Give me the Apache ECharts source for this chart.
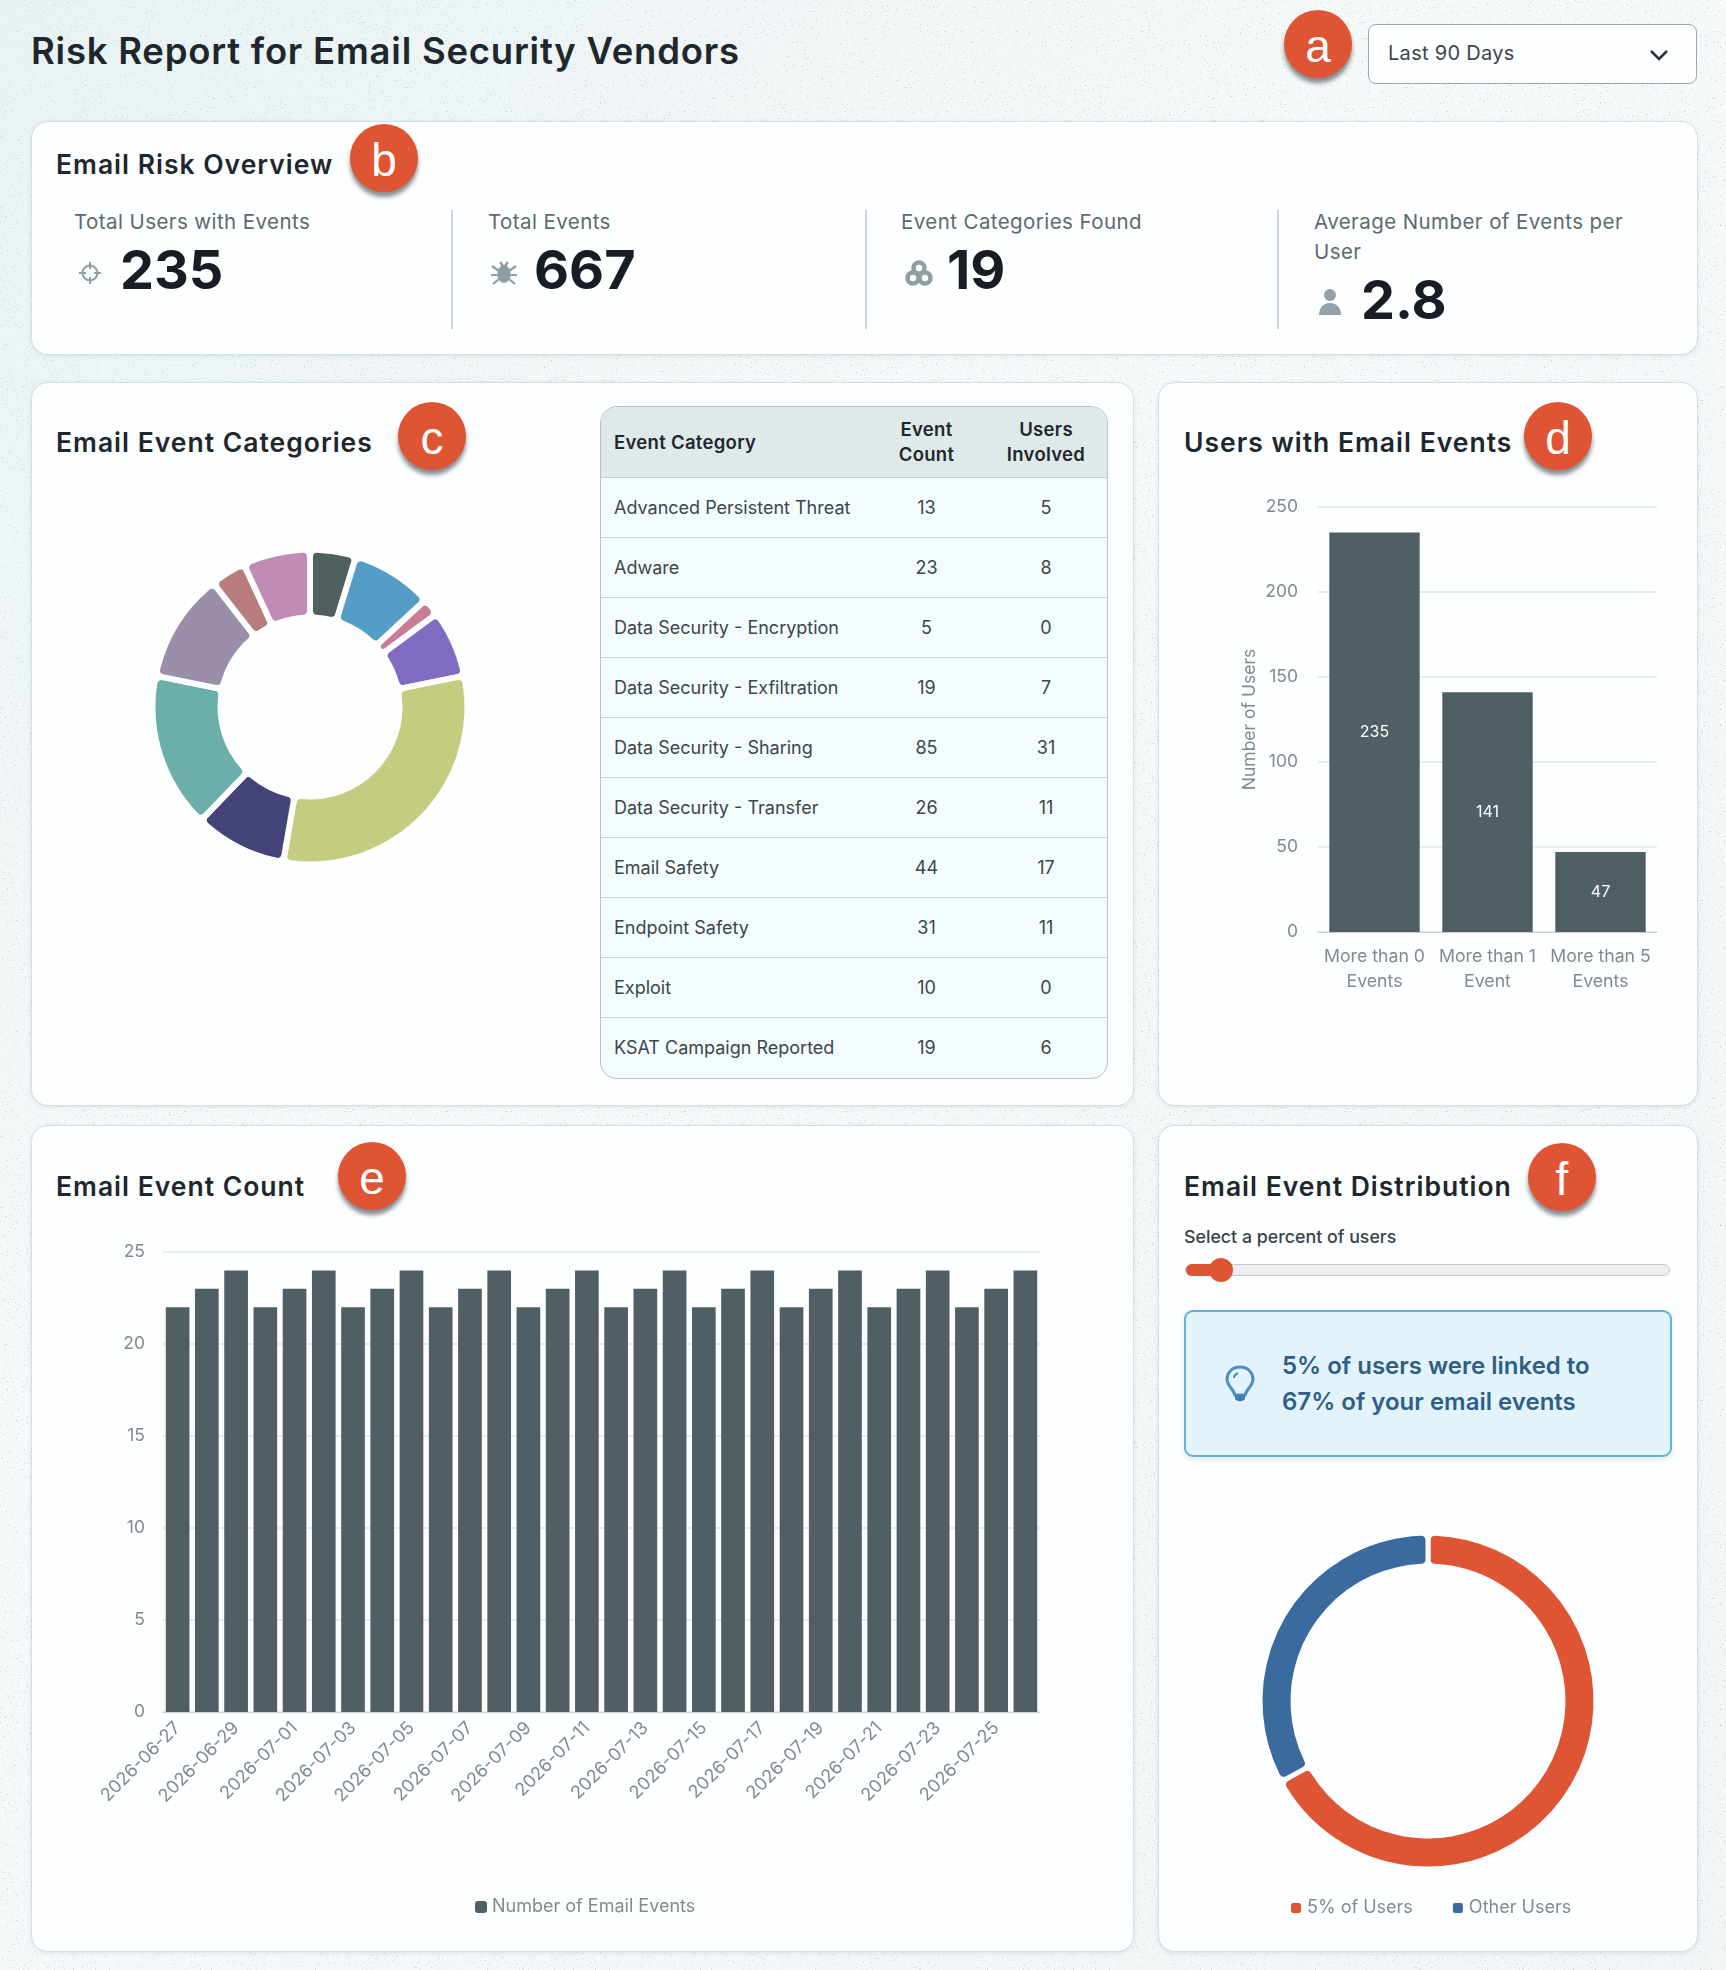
<!DOCTYPE html>
<html><head><meta charset="utf-8">
<script src="https://cdn.jsdelivr.net/npm/echarts@6/dist/echarts.min.js"></script>
<style>
html,body{margin:0;padding:0;width:1726px;height:1970px;overflow:hidden}
body{position:relative;font-family:Inter,"Noto Sans",sans-serif;color:#1c252c;
background-color:#f3f7f8;
background-image:url("data:image/svg+xml,%3Csvg xmlns='http://www.w3.org/2000/svg' width='500' height='500'%3E%3Cfilter id='n'%3E%3CfeTurbulence type='fractalNoise' baseFrequency='.55' numOctaves='2' seed='7'/%3E%3CfeColorMatrix values='0 0 0 0 .62 0 0 0 0 .7 0 0 0 0 .72 0 0 0 14 -9.8'/%3E%3C/filter%3E%3Crect width='100%25' height='100%25' filter='url(%23n)'/%3E%3C/svg%3E"),linear-gradient(135deg,#e9f2f3,#f6f9f9 40%,#f0f5f6);
background-size:500px 500px,100% 100%}
.abs{position:absolute}
.panel{position:absolute;background:#fcfeff;border:1.5px solid #d3dfe2;border-radius:17px;box-sizing:border-box;box-shadow:0 1px 4px rgba(90,120,130,.15)}
.h{position:absolute;font-weight:600;font-size:26.5px;letter-spacing:1px;color:#1f272e;white-space:nowrap;line-height:32px}
.badge{position:absolute;width:68px;height:68px;border-radius:50%;background:#df5433;color:#fff;font:400 46px/72px "Liberation Sans",Arial,sans-serif;text-align:center;box-shadow:0 5px 4px rgba(40,50,55,.55)}
.lab{position:absolute;font-size:20.5px;font-weight:400;letter-spacing:.42px;color:#5d6a6e;line-height:30px;white-space:nowrap}
.num{position:absolute;font-size:54px;font-weight:700;color:#161d24;line-height:60px;letter-spacing:0}
.sep{position:absolute;width:1.5px;top:210px;height:119px;background:#ccd6d9}
table{border-collapse:separate;border-spacing:0;table-layout:fixed;width:100%;font-size:18px;color:#3c464b}
#tw{position:absolute;left:600px;top:406px;width:508px;height:673px;border:1.5px solid #b5c3c7;border-radius:17px;overflow:hidden;box-sizing:border-box;background:#f4fbfd}
th{background:#e0e9e9;font-weight:600;color:#1f272e;height:70px;padding:0;border-bottom:1.5px solid #c2ced2;line-height:25px;font-size:18.5px;letter-spacing:.3px}
td{height:59.05px;padding:0;border-bottom:1.5px solid #c8d4d8;text-align:center}
tr:last-child td{border-bottom:none}
th:first-child,td:first-child{text-align:left;padding-left:13px}
svg{position:absolute}
#chart{position:absolute;left:0;top:0;width:1726px;height:1970px}
</style></head><body>
<div class="abs" style="left:31px;top:27px;font-size:36.5px;font-weight:600;letter-spacing:.77px;color:#1f272e;line-height:48px;white-space:nowrap">Risk Report for Email Security Vendors</div>
<div class="abs" style="left:1368px;top:24px;width:329px;height:60px;box-sizing:border-box;border:1.5px solid #9aa7ab;border-radius:8px;background:#fcfeff;font-size:20px;letter-spacing:.3px;color:#3c464b;line-height:56px;padding-left:19px">Last 90 Days</div>
<svg style="left:1648px;top:48px" width="22" height="14" viewBox="0 0 22 14"><path d="M3 3l8 8 8-8" fill="none" stroke="#2b3338" stroke-width="2.6"/></svg>

<div class="panel" style="left:31px;top:121px;width:1667px;height:234px"></div>
<div class="panel" style="left:31px;top:382px;width:1103px;height:724px"></div>
<div class="panel" style="left:1158px;top:382px;width:540px;height:724px"></div>
<div class="panel" style="left:31px;top:1125px;width:1103px;height:827px"></div>
<div class="panel" style="left:1158px;top:1125px;width:540px;height:827px"></div>

<div class="h" style="left:56px;top:148px">Email Risk Overview</div>
<div class="h" style="left:56px;top:426px">Email Event Categories</div>
<div class="h" style="left:1184px;top:426px">Users with Email Events</div>
<div class="h" style="left:56px;top:1170px">Email Event Count</div>
<div class="h" style="left:1184px;top:1170px">Email Event Distribution</div>

<div class="badge" style="left:1284px;top:10px">a</div>
<div class="badge" style="left:350px;top:124px">b</div>
<div class="badge" style="left:398px;top:402px">c</div>
<div class="badge" style="left:1524px;top:402px">d</div>
<div class="badge" style="left:338px;top:1142px">e</div>
<div class="badge" style="left:1528px;top:1143px">f</div>

<div class="sep" style="left:451px"></div><div class="sep" style="left:865px"></div><div class="sep" style="left:1277px"></div>
<div class="lab" style="left:74px;top:207px">Total Users with Events</div>
<div class="lab" style="left:488px;top:207px">Total Events</div>
<div class="lab" style="left:901px;top:207px">Event Categories Found</div>
<div class="lab" style="left:1314px;top:207px;line-height:30px">Average Number of Events per<br>User</div>
<div class="num" style="left:120px;top:240px">235</div>
<div class="num" style="left:534px;top:240px">667</div>
<div class="num" style="left:947px;top:240px">19</div>
<div class="num" style="left:1361px;top:270px">2.8</div>
<svg style="left:78px;top:261px" width="24" height="24" viewBox="0 0 24 24"><g fill="none" stroke="#8f9ea2" stroke-width="2"><circle cx="12" cy="12" r="7.5"/><path d="M12 1v7M12 16v7M1 12h7M16 12h7"/></g></svg>
<svg style="left:490px;top:260px" width="28" height="26" viewBox="0 0 28 26"><g stroke="#8f9ea2" stroke-width="2.2" fill="#8f9ea2"><ellipse cx="14" cy="14" rx="5.5" ry="8"/><path d="M2 6l7 5M26 6l-7 5M1 15h7M27 15h-7M3 24l6-5M25 24l-6-5M10 2l3 4M18 2l-3 4" fill="none"/></g></svg>
<svg style="left:904px;top:259px" width="30" height="28" viewBox="0 0 30 28"><g fill="none" stroke="#8f9ea2" stroke-width="4.5"><circle cx="15" cy="9" r="5.5"/><circle cx="9" cy="19" r="5.5"/><circle cx="21" cy="19" r="5.5"/></g></svg>
<svg style="left:1318px;top:288px" width="24" height="28" viewBox="0 0 24 28"><circle cx="12" cy="7" r="6" fill="#93a2a6"/><path d="M1 27c0-8 5-12 11-12s11 4 11 12z" fill="#93a2a6"/></svg>

<div id="tw"><table id="tb"></table></div>

<div class="abs" style="left:1184px;top:1225px;font-size:17.8px;font-weight:500;color:#3a4349;line-height:24px;white-space:nowrap">Select a percent of users</div>
<div class="abs" style="left:1185px;top:1264px;width:485px;height:12px;box-sizing:border-box;background:#eceef0;border:1.5px solid #c5c9cc;border-radius:6px"></div>
<div class="abs" style="left:1186px;top:1264px;width:35px;height:12px;background:#df5433;border-radius:6px 0 0 6px"></div>
<div class="abs" style="left:1209px;top:1258px;width:24px;height:24px;background:#df5433;border-radius:50%"></div>
<div class="abs" style="left:1184px;top:1310px;width:488px;height:147px;box-sizing:border-box;background:#e2f3fc;border:2px solid #69b0d8;border-radius:9px;box-shadow:0 2px 5px rgba(90,120,130,.18)"></div>
<div class="abs" style="left:1282px;top:1348px;font-size:24px;font-weight:600;color:#2f5f85;line-height:36px;white-space:nowrap">5% of users were linked to<br>67% of your email events</div>
<svg style="left:1224px;top:1364px" width="32" height="40" viewBox="0 0 32 40"><path d="M16 3C8 3 3 9 3 15c0 7 6 9 8 16h10c2-7 8-9 8-16 0-6-5-12-13-12z" fill="none" stroke="#4d8fbd" stroke-width="3"/><path d="M11 31h10v4c-2 3-8 3-10 0z" fill="#3f7fae"/><path d="M10 14c0-2 2-4 4-5" fill="none" stroke="#4d8fbd" stroke-width="2"/></svg>

<div id="chart"></div>
<script>
var categoryNames=["Advanced Persistent Threat","Adware","Data Security - Encryption","Data Security - Exfiltration","Data Security - Sharing","Data Security - Transfer","Email Safety","Endpoint Safety","Exploit","KSAT Campaign Reported"];
var categoryEventCounts=[13,23,5,19,85,26,44,31,10,19];
var categoryUsers=[5,8,0,7,31,11,17,11,0,6];
var categoryColors=["#50605f","#549dc7","#c97b98","#7f6cc2","#c4cc7f","#44447a","#6bafaa","#9a8ea9","#b97c7c","#c08cb6"];
var userBuckets=["More than 0\nEvents","More than 1\nEvent","More than 5\nEvents"];
var userBucketValues=[235,141,47];
var dates=["2026-06-27","2026-06-28","2026-06-29","2026-06-30","2026-07-01","2026-07-02","2026-07-03","2026-07-04","2026-07-05","2026-07-06","2026-07-07","2026-07-08","2026-07-09","2026-07-10","2026-07-11","2026-07-12","2026-07-13","2026-07-14","2026-07-15","2026-07-16","2026-07-17","2026-07-18","2026-07-19","2026-07-20","2026-07-21","2026-07-22","2026-07-23","2026-07-24","2026-07-25","2026-07-26"];
var dailyEvents=[22,23,24,22,23,24,22,23,24,22,23,24,22,23,24,22,23,24,22,23,24,22,23,24,22,23,24,22,23,24];
var distNames=["5% of Users","Other Users"];
var distValues=[67,33];
var distColors=["#df5433","#3b6a9f"];

var h='<thead><tr><th style="width:254px">Event Category</th><th>Event<br>Count</th><th style="width:122px">Users<br>Involved</th></tr></thead><tbody>';
categoryNames.forEach(function(n,i){h+='<tr><td>'+n+'</td><td>'+categoryEventCounts[i]+'</td><td>'+categoryUsers[i]+'</td></tr>';});
document.getElementById('tb').innerHTML=h+'</tbody>';

var F='Inter', LC='#7f8c8e', GC='#e7eded', AC='#c5d0d3', BAR='#505f63';
var chart=echarts.init(document.getElementById('chart'),null,{width:1726,height:1970});
chart.setOption({
  animation:false,
  textStyle:{fontFamily:F},
  grid:[
    {left:1318,top:507,width:339,height:425,containLabel:false},
    {left:163,top:1252,width:877,height:460,containLabel:false}
  ],
  legend:[
    {data:["Number of Email Events"],left:470,top:1893,icon:'roundRect',itemWidth:12,itemHeight:12,itemGap:8,textStyle:{color:LC,fontSize:18,fontFamily:F}},
    {data:distNames,left:1284,top:1894,icon:'roundRect',itemWidth:12,itemHeight:12,itemGap:38,textStyle:{color:LC,fontSize:18,fontFamily:F}}
  ],
  xAxis:[
    {type:'category',gridIndex:0,data:userBuckets,axisTick:{show:false},axisLine:{lineStyle:{color:AC}},axisLabel:{color:LC,fontSize:17.7,lineHeight:25,margin:12,interval:0,fontFamily:F}},
    {type:'category',gridIndex:1,data:dates,axisTick:{show:false},axisLine:{lineStyle:{color:AC}},axisLabel:{color:LC,fontSize:18,rotate:45,interval:1,margin:13,fontFamily:F}}
  ],
  yAxis:[
    {type:'value',gridIndex:0,min:0,max:250,interval:50,name:'Number of Users',nameLocation:'middle',nameGap:59,nameTextStyle:{color:LC,fontSize:17.5,fontFamily:F},axisLabel:{color:LC,fontSize:17.5,margin:20,fontFamily:F},axisLine:{show:false},axisTick:{show:false},splitLine:{lineStyle:{color:GC,width:2}}},
    {type:'value',gridIndex:1,min:0,max:25,interval:5,axisLabel:{color:LC,fontSize:17.5,margin:18,fontFamily:F},axisLine:{show:false},axisTick:{show:false},splitLine:{lineStyle:{color:GC,width:2}}}
  ],
  series:[
    {type:'pie',name:'Email Event Categories',center:[310,707],radius:[89.5,157.5],label:{show:false},labelLine:{show:false},silent:true,
     itemStyle:{borderColor:'#fcfeff',borderWidth:6,borderRadius:7},
     data:categoryNames.map(function(n,i){return {name:n,value:categoryEventCounts[i],itemStyle:{color:categoryColors[i]}};})},
    {type:'bar',xAxisIndex:0,yAxisIndex:0,data:userBucketValues,barCategoryGap:'20%',itemStyle:{color:BAR},label:{show:true,position:'inside',color:'#fff',fontSize:16,fontFamily:F}},
    {type:'bar',name:'Number of Email Events',xAxisIndex:1,yAxisIndex:1,data:dailyEvents,barCategoryGap:'19%',itemStyle:{color:BAR}},
    {type:'pie',name:'Email Event Distribution',center:[1428,1701],radius:[135,168],label:{show:false},labelLine:{show:false},silent:true,
     itemStyle:{borderColor:'#fcfeff',borderWidth:5,borderRadius:7},
     data:distNames.map(function(n,i){return {name:n,value:distValues[i],itemStyle:{color:distColors[i]}};})}
  ]
});
</script>
</body></html>
